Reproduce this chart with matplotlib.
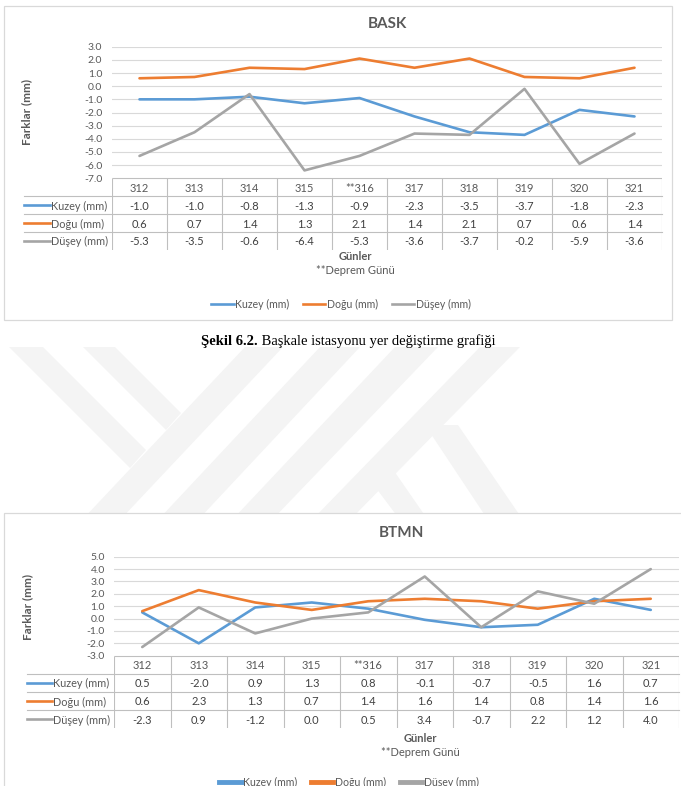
import matplotlib
matplotlib.use('Agg')
import matplotlib.pyplot as plt
import numpy as np
from matplotlib.patches import Rectangle, Polygon
from matplotlib.lines import Line2D
import matplotlib.transforms as mtransforms

# ---------------- data ----------------
days = ['312', '313', '314', '315', '**316', '317', '318', '319', '320', '321']
series_names = ['Kuzey (mm)', 'Doğu (mm)', 'Düşey (mm)']
series_colors = ['#5B9BD5', '#ED7D31', '#A5A5A5']

bask_kuzey = [-1.0, -1.0, -0.8, -1.3, -0.9, -2.3, -3.5, -3.7, -1.8, -2.3]
bask_dogu = [0.6, 0.7, 1.4, 1.3, 2.1, 1.4, 2.1, 0.7, 0.6, 1.4]
bask_dusey = [-5.3, -3.5, -0.6, -6.4, -5.3, -3.6, -3.7, -0.2, -5.9, -3.6]
bask_yticks = [3.0, 2.0, 1.0, 0.0, -1.0, -2.0, -3.0, -4.0, -5.0, -6.0, -7.0]

btmn_kuzey = [0.5, -2.0, 0.9, 1.3, 0.8, -0.1, -0.7, -0.5, 1.6, 0.7]
btmn_dogu = [0.6, 2.3, 1.3, 0.7, 1.4, 1.6, 1.4, 0.8, 1.4, 1.6]
btmn_dusey = [-2.3, 0.9, -1.2, 0.0, 0.5, 3.4, -0.7, 2.2, 1.2, 4.0]
btmn_yticks = [5.0, 4.0, 3.0, 2.0, 1.0, 0.0, -1.0, -2.0, -3.0]

ylabel_text = 'Farklar (mm)'
xlabel_text = 'Günler'
note_text = '**Deprem Günü'
caption_bold = 'Şekil 6.2.'
caption_rest = 'Başkale istasyonu yer değiştirme grafiği'

# ---------------- figure ----------------
plt.rcParams['font.family'] = ['Lato', 'DejaVu Sans']
W, H = 681, 786
fig = plt.figure(figsize=(W / 100, H / 100), dpi=100)
fig.patch.set_facecolor('white')

TXT = '#595959'
GRID = '#D9D9D9'
TBL = '#BFBFBF'


def fxy(x, y):
    return (x / W, 1 - y / H)


def px_rect(x0, y0, x1, y1):
    return [x0 / W, 1 - y1 / H, (x1 - x0) / W, (y1 - y0) / H]


# ---------------- watermark (faint page logo) ----------------
wm_color = '#F4F4F4'
wm_polys = [
    [(9, 347), (43, 347), (146, 450), (130, 468)],
    [(83, 347), (115, 347), (181, 413), (166, 430)],
    [(245, 347), (283, 347), (120, 520), (82, 520)],
    [(320, 347), (360, 347), (198, 520), (158, 520)],
    [(395, 347), (438, 347), (272, 520), (232, 520)],
    [(480, 347), (520, 347), (350, 520), (312, 520)],
    [(425, 425), (458, 425), (523, 520), (488, 520)],
    [(370, 480), (392, 468), (428, 520), (400, 520)],
]
for poly in wm_polys:
    fig.add_artist(Polygon([fxy(x, y) for x, y in poly], closed=True,
                           transform=fig.transFigure, facecolor=wm_color,
                           edgecolor='none', zorder=-5))


def draw_chart(title, values, yticks, box, plot, table_bottom, title_xy,
               ylabel_xy, xlabel_xy, note_xy, legend_xy, label_x0, key_len,
               tick_pad, legend_lw):
    # chart frame
    bx0, by0, bx1, by1 = box
    fig.add_artist(Rectangle(fxy(bx0, by1), (bx1 - bx0) / W, (by1 - by0) / H,
                             transform=fig.transFigure, facecolor='white',
                             edgecolor='#D9D9D9', linewidth=0.9, zorder=-2))
    px0, py0, px1, py1 = plot
    ax = fig.add_axes(px_rect(px0, py0, px1, py1))
    ax.set_facecolor('none')
    n = len(days)
    x = np.arange(n)
    ax.set_xlim(-0.5, n - 0.5)
    ax.set_ylim(min(yticks), max(yticks))
    ax.set_yticks(yticks)
    ax.set_yticklabels([f'{v:.1f}' for v in yticks], fontsize=7.5, color=TXT)
    ax.set_xticks([])
    ax.tick_params(axis='y', length=0, pad=tick_pad)
    for s in ax.spines.values():
        s.set_visible(False)
    ax.yaxis.grid(True, color=GRID, linewidth=0.8)
    ax.set_axisbelow(True)
    for vals, c in zip(values, series_colors):
        ax.plot(x, vals, color=c, lw=1.9, solid_joinstyle='round',
                solid_capstyle='round', clip_on=False, zorder=3)

    # data table
    tax = fig.add_axes(px_rect(px0, py1, px1, table_bottom))
    tax.set_xlim(-0.5, n - 0.5)
    tax.set_ylim(4, 0)
    tax.axis('off')
    trans = mtransforms.blended_transform_factory(fig.transFigure, tax.transData)
    tax.hlines(0, -0.5, n - 0.5, color=TBL, lw=0.8)
    tax.vlines(np.arange(n + 1) - 0.5, 0, 4, color=TBL, lw=0.8)
    for r in (1, 2, 3):
        tax.plot([label_x0 / W, px1 / W], [r, r], transform=trans, color=TBL,
                 lw=0.8, clip_on=False)
    for i, d in enumerate(days):
        tax.text(i, 0.55, d, ha='center', va='center', fontsize=8, color=TXT)
    for r, (vals, name, c) in enumerate(zip(values, series_names, series_colors)):
        yy = r + 1.55
        for i, v in enumerate(vals):
            tax.text(i, yy, f'{v:.1f}', ha='center', va='center', fontsize=8,
                     color='#404040')
        tax.plot([label_x0 / W, (label_x0 + key_len) / W], [r + 1.5, r + 1.5],
                 transform=trans, color=c, lw=1.9, clip_on=False)
        tax.text((label_x0 + key_len + 1) / W, yy, name, transform=trans,
                 ha='left', va='center', fontsize=7.8, color=TXT)

    # texts
    fig.text(*fxy(*title_xy), title, ha='center', va='center', fontsize=11,
             weight='bold', color=TXT)
    fig.text(*fxy(*ylabel_xy), ylabel_text, ha='center', va='center',
             rotation=90, fontsize=8.5, weight='bold', color=TXT)
    fig.text(*fxy(*xlabel_xy), xlabel_text, ha='center', va='center',
             fontsize=8, weight='bold', color=TXT)
    fig.text(*fxy(*note_xy), note_text, ha='center', va='center',
             fontsize=8, color=TXT)
    handles = [Line2D([], [], color=c, lw=legend_lw) for c in series_colors]
    fig.legend(handles, series_names, loc='center', bbox_to_anchor=fxy(*legend_xy),
               ncol=3, frameon=False, fontsize=7.6, handlelength=2.1,
               handletextpad=0.15, columnspacing=1.3, labelcolor=TXT,
               borderpad=0, borderaxespad=0)


draw_chart('BASK', [bask_kuzey, bask_dogu, bask_dusey], bask_yticks,
           box=(4, 6, 672, 320), plot=(112, 46.7, 662, 178.3), table_bottom=250,
           title_xy=(387, 24), ylabel_xy=(27, 112), xlabel_xy=(355, 257),
           note_xy=(355, 271), legend_xy=(341, 304), label_x0=24, key_len=26,
           tick_pad=7, legend_lw=1.9)

draw_chart('BTMN', [btmn_kuzey, btmn_dogu, btmn_dusey], btmn_yticks,
           box=(4, 513, 700, 820), plot=(114, 556.7, 679, 655.7), table_bottom=728.3,
           title_xy=(401, 533), ylabel_xy=(28, 607), xlabel_xy=(420, 738),
           note_xy=(420, 752), legend_xy=(349, 782), label_x0=27, key_len=25,
           tick_pad=6.5, legend_lw=3.5)

# ---------------- caption ----------------
renderer = fig.canvas.get_renderer()
cap_font = ['Liberation Serif', 'DejaVu Serif']
t1 = fig.text(0, 0, caption_bold, fontsize=10.5, weight='bold', family=cap_font)
t2 = fig.text(0, 0, ' ' + caption_rest, fontsize=10.5, family=cap_font)
w1 = t1.get_window_extent(renderer).width
w2 = t2.get_window_extent(renderer).width
cx, cy = 348, 341
start = cx - (w1 + w2) / 2
t1.set_position(fxy(start, cy))
t1.set_va('center')
t2.set_position(fxy(start + w1, cy))
t2.set_va('center')

fig.savefig('out.png', dpi=100, facecolor='white')
